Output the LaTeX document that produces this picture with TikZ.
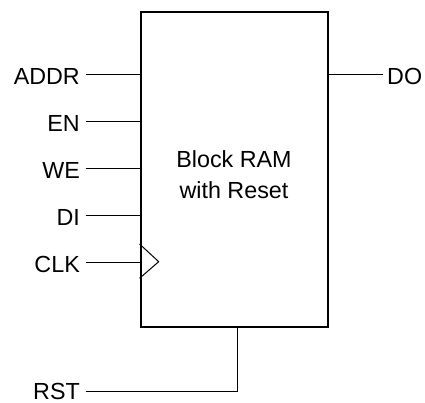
\documentclass[tikz,border=0pt]{standalone}
\usepackage{fontspec}
\setmainfont{Liberation Sans}
\begin{document}
\begin{tikzpicture}[x=1pt,y=1pt,
  lblfont/.style={font=\fontsize{23.3}{30.3}\selectfont},
  pinlbl/.style={lblfont, inner xsep=5.7pt, inner ysep=0pt, text height=20pt, text depth=0pt},
  wire/.style={line width=1.1pt},
  blk/.style={draw, line width=2.3pt, minimum width=187pt, minimum height=314.4pt, inner sep=0pt}]
\useasboundingbox (0,0) rectangle (425,402);
\node[blk] (ram) at (234.2,232.5) {};
\node[lblfont, align=center, inner sep=0pt] (title) at (234,227.2) {Block RAM\\with Reset};
\foreach \n/\t/\y in {addr/ADDR/327.7, en/EN/280.7, we/WE/233.7, di/DI/186.7, clk/CLK/139.7} {
  \node[pinlbl, anchor=east] (\n) at (85.7,\y) {\t};
  \coordinate (\n-pin) at (ram.west |- \n.east);
  \draw[wire] (\n.east) -- (\n-pin);
}
% clock triangle
\coordinate (ckA) at (ram.west |- 0,158);
\coordinate (ckB) at (158.7,140.3);
\coordinate (ckC) at (ram.west |- 0,123.7);
\draw[line width=1pt, line join=miter] (ckA) -- (ckB) -- (ckC);
% output
\node[pinlbl, anchor=west, inner xsep=4.3pt] (do) at (382.7,327.7) {DO};
\coordinate (do-pin) at (ram.east |- do.west);
\draw[wire] (do-pin) -- (do.west);
% reset
\node[pinlbl, anchor=east, text height=16pt] (rst) at (85.7,10.7) {RST};
\coordinate (rstc) at (237.3,10.7);
\draw[wire] (rst.east) -- (rstc) -- (rstc |- ram.south);
\end{tikzpicture}
\end{document}
